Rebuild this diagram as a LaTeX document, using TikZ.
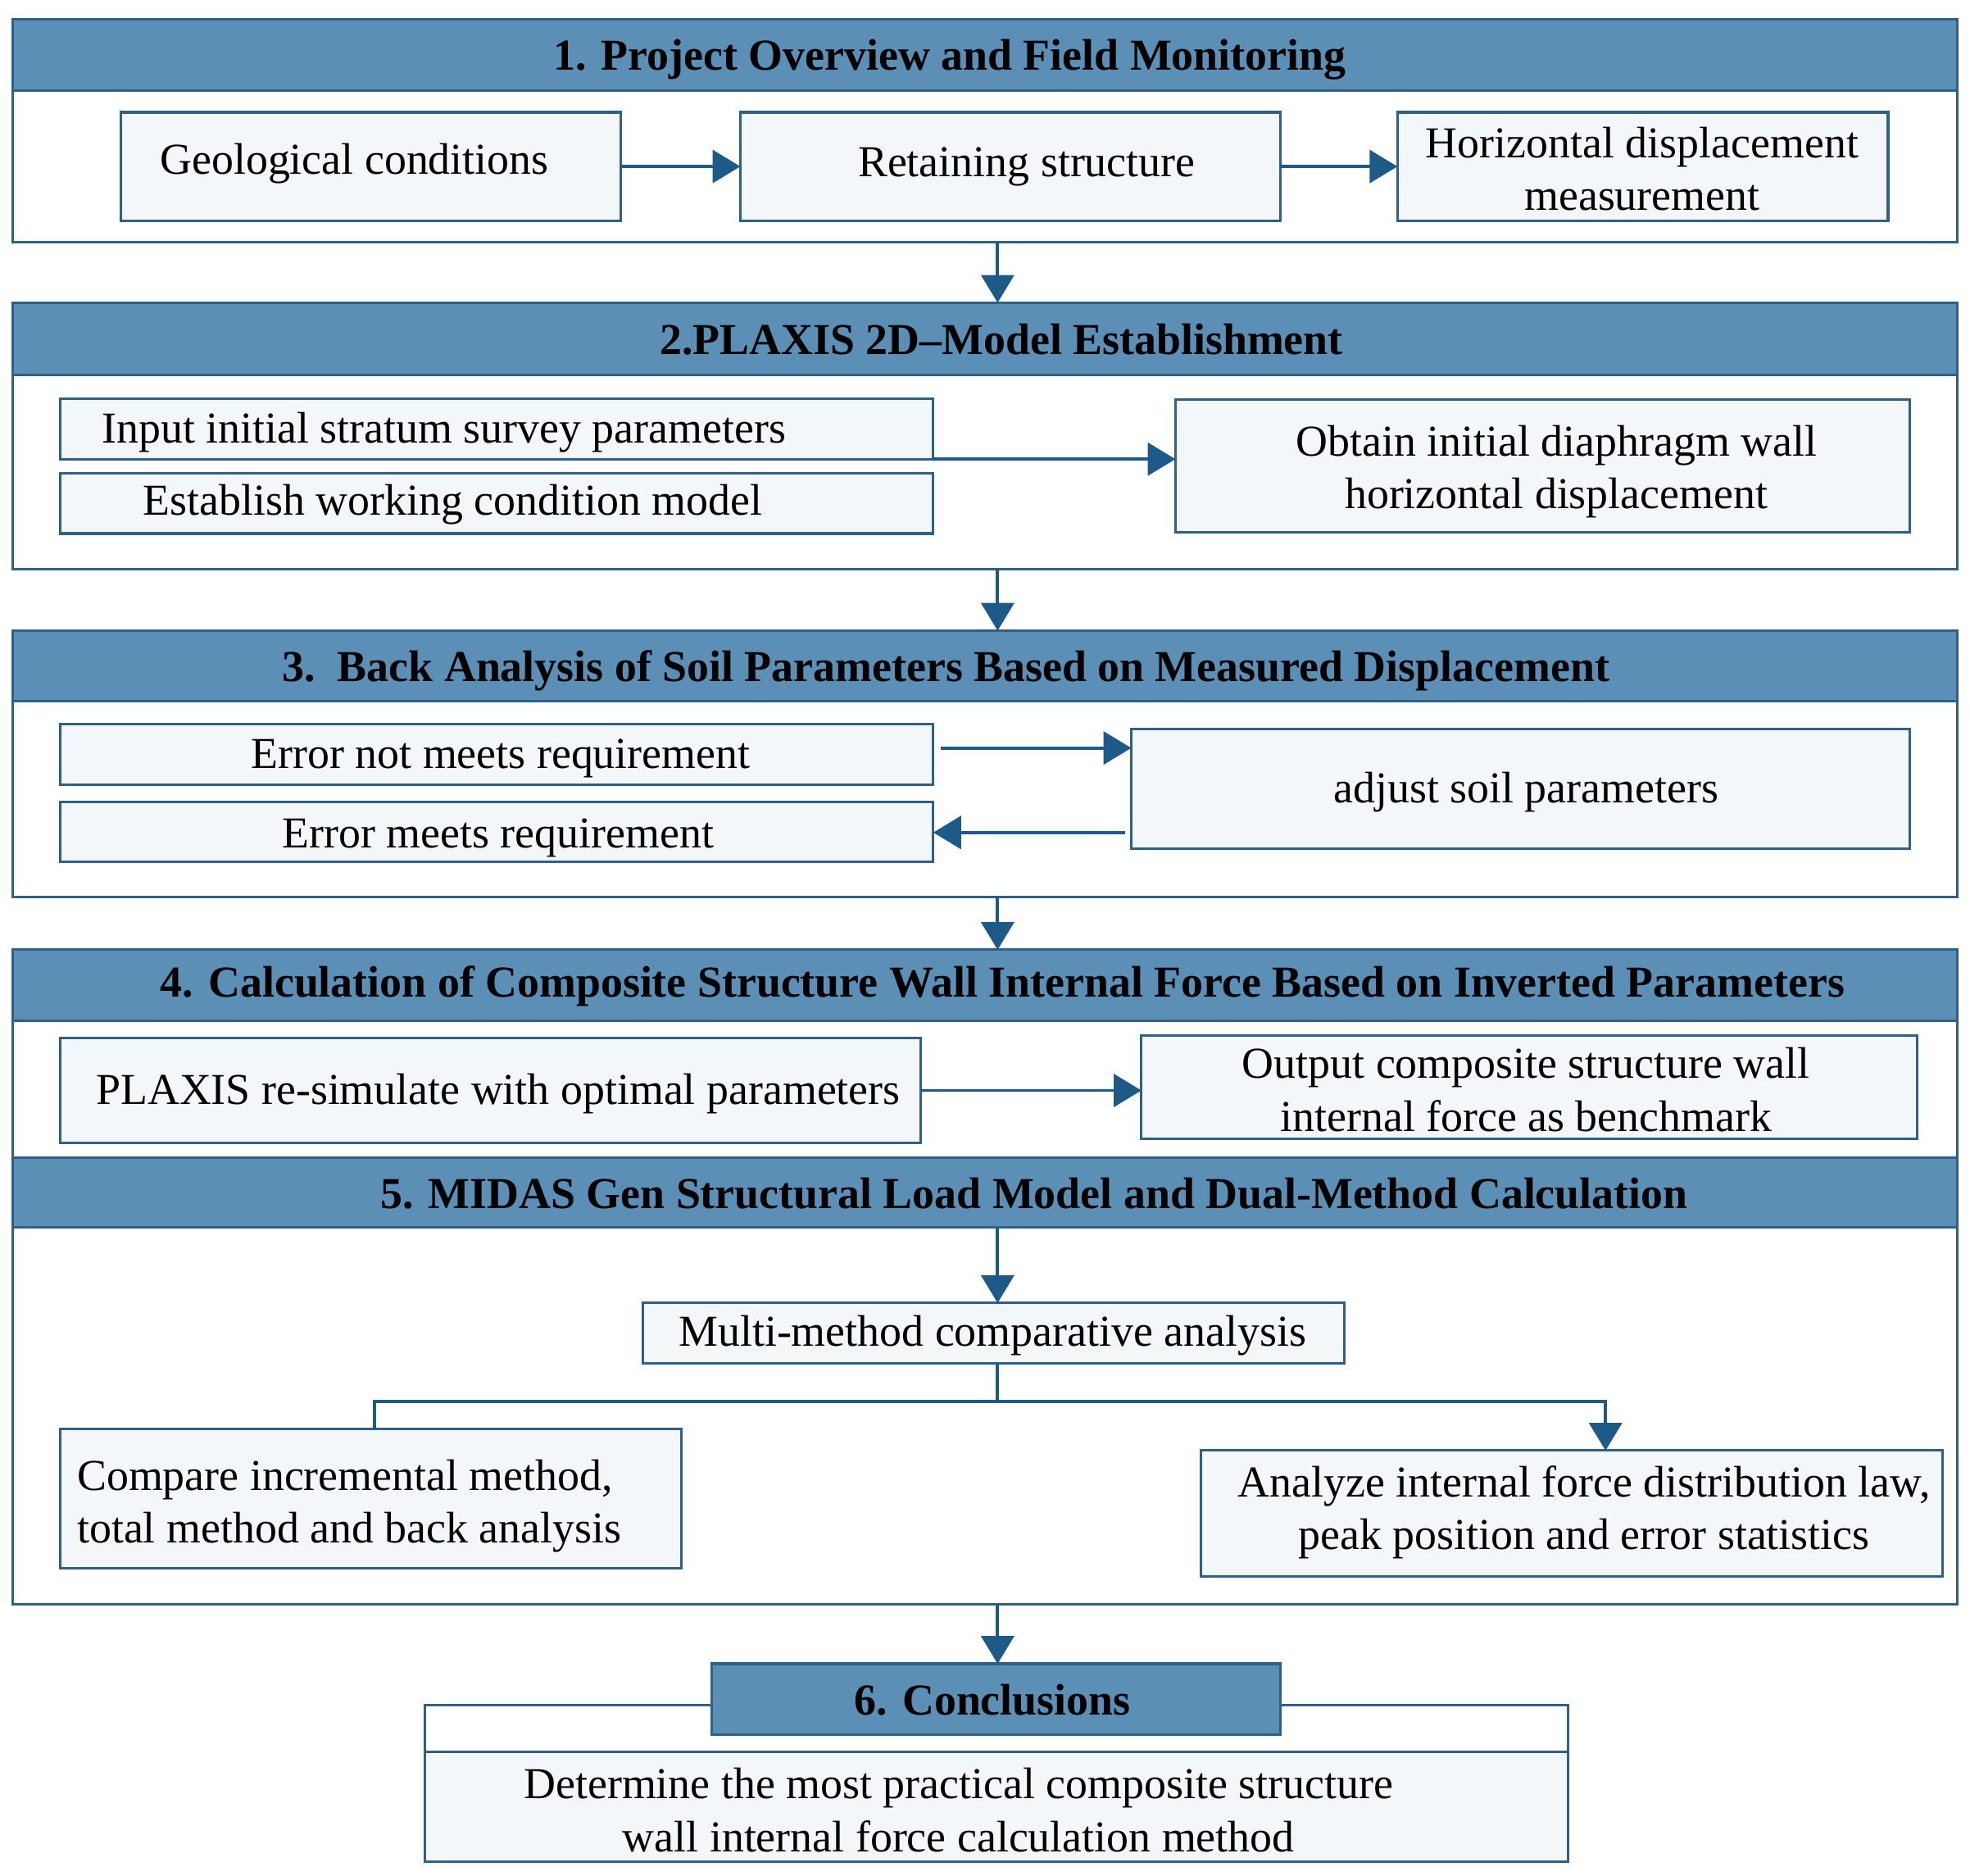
\documentclass[tikz,border=0pt]{standalone}
\usepackage{fontspec}
\setmainfont{Liberation Serif}
\usetikzlibrary{arrows.meta}
\definecolor{hdr}{HTML}{5B8FB5}
\definecolor{frm}{HTML}{2F6088}
\definecolor{arr}{HTML}{1D5A87}
\definecolor{inbox}{HTML}{F3F7FA}
\tikzset{
  box/.style={anchor=north west, inner sep=0pt, outer sep=0pt},
  frame/.style={box, draw=frm, fill=white, line width=2pt},
  header/.style={box, draw=frm, fill=hdr, line width=2pt},
  inner/.style={box, draw=frm, fill=inbox, line width=2pt},
  htext/.style={font=\fontsize{35}{40}\selectfont\bfseries, inner sep=0pt},
  btext/.style={font=\fontsize{35}{42}\selectfont, align=center, inner sep=0pt},
  conn/.style={draw=arr, line width=2.5pt},
  flow/.style={conn, -{Triangle[length=22pt,width=26pt]}},
}
\begin{document}
\begin{tikzpicture}[x=1pt,y=-1pt]
\useasboundingbox[fill=white] (0,0) rectangle (1562,1487);
\coordinate (x791) at (791,0);
% ---------- Section 1
\node[frame, minimum width=1542pt, minimum height=177pt] (f1) at (10,15) {};
\node[header, minimum width=1542pt, minimum height=57pt] (h1) at (10,15) {};
\node[htext] (t1) at (753,47) {1. Project Overview and Field Monitoring};
\node[inner, minimum width=396pt, minimum height=86pt] (geo) at (96,89) {};
\node[btext] (tgeo) at (281,130) {Geological conditions};
\node[inner, minimum width=428pt, minimum height=86pt] (ret) at (587,89) {};
\node[btext] (tret) at (814,132) {Retaining structure};
\node[inner, minimum width=389pt, minimum height=86pt] (hor) at (1108,89) {};
\node[btext] (thor) at (1302,134) {Horizontal displacement\\measurement};
\draw[flow] (geo.east) -- (ret.west);
\draw[flow] (ret.east) -- (hor.west);
% ---------- Section 2
\node[frame, minimum width=1542pt, minimum height=211pt] (f2) at (10,240) {};
\node[header, minimum width=1542pt, minimum height=57pt] (h2) at (10,240) {};
\node[htext] (t2) at (794,269) {2.PLAXIS 2D--Model Establishment};
\draw[flow] (f1.south -| x791) -- (h2.north -| x791);
\node[inner, minimum width=692pt, minimum height=48pt] (inp) at (48,316) {};
\node[btext] (tinp) at (352,343) {Input initial stratum survey parameters};
\node[inner, minimum width=692pt, minimum height=48pt] (est) at (48,375) {};
\node[btext] (test) at (359,400) {Establish working condition model};
\node[inner, minimum width=582pt, minimum height=105pt] (obt) at (932,317) {};
\node[btext] (tobt) at (1234,374) {Obtain initial diaphragm wall\\horizontal displacement};
\draw[flow] (inp.south east) -- (inp.south east -| obt.west);
% ---------- Section 3
\node[frame, minimum width=1542pt, minimum height=211pt] (f3) at (10,500) {};
\node[header, minimum width=1542pt, minimum height=56pt] (h3) at (10,500) {};
\node[htext] (t3) at (750,532) {3.\ \ Back Analysis of Soil Parameters Based on Measured Displacement};
\draw[flow] (f2.south -| x791) -- (h3.north -| x791);
\node[inner, minimum width=692pt, minimum height=48pt] (enm) at (48,574) {};
\node[btext] (tenm) at (397,601) {Error not meets requirement};
\node[inner, minimum width=692pt, minimum height=47pt] (em) at (48,636) {};
\node[btext] (tem) at (395,664) {Error meets requirement};
\node[inner, minimum width=617pt, minimum height=95pt] (adj) at (897,578) {};
\node[btext] (tadj) at (1210,628) {adjust soil parameters};
\coordinate (a3s) at ([shift={(6,19)}]enm.north east);
\draw[flow] (a3s) -- (a3s -| adj.west);
\coordinate (a3t) at ([shift={(-5,82)}]adj.north west);
\draw[flow] (a3t) -- (a3t -| em.east);
% ---------- Section 4
\node[frame, minimum width=1542pt, minimum height=165pt] (f4) at (10,753) {};
\node[header, minimum width=1542pt, minimum height=56pt] (h4) at (10,753) {};
\node[htext] (t4) at (795,782) {4. Calculation of Composite Structure Wall Internal Force Based on Inverted Parameters};
\draw[flow] (f3.south -| x791) -- (h4.north -| x791);
\node[inner, minimum width=682pt, minimum height=83pt] (plx) at (48,823) {};
\node[btext] (tplx) at (395,867) {PLAXIS re-simulate with optimal parameters};
\node[inner, minimum width=615pt, minimum height=82pt] (out) at (905,821) {};
\node[btext] (tout) at (1210,864) {Output composite structure wall\\internal force as benchmark};
\draw[flow] (plx.east) -- (plx.east -| out.west);
% ---------- Section 5
\node[frame, minimum width=1542pt, minimum height=354pt] (f5) at (10,918) {};
\node[header, minimum width=1542pt, minimum height=55pt] (h5) at (10,918) {};
\node[htext] (t5) at (820,946) {5. MIDAS Gen Structural Load Model and Dual-Method Calculation};
\node[inner, minimum width=556pt, minimum height=48pt] (mm) at (510,1033) {};
\node[btext] (tmm) at (787,1059) {Multi-method comparative analysis};
\draw[flow] (h5.south -| x791) -- (mm.north -| x791);
\node[inner, minimum width=492pt, minimum height=110pt] (cmp) at (48,1133) {};
\node[btext, align=left, anchor=west] (tcmp) at (61,1194) {Compare incremental method,\\total method and back analysis};
\node[inner, minimum width=588pt, minimum height=100pt] (ana) at (952,1150) {};
\node[btext] (tana) at (1256,1199) {Analyze internal force distribution law,\\peak position and error statistics};
\coordinate (br) at (791,1111);
\draw[conn] (mm.south -| x791) -- (br);
\draw[conn] (br) -| ([xshift=3pt]cmp.north);
\draw[flow] (br) -| ([xshift=27pt]ana.north);
% ---------- Section 6
\node[frame, minimum width=906pt, minimum height=124pt] (f6) at (337,1352) {};
\node[inner, minimum width=906pt, minimum height=87pt] (det) at (337,1389) {};
\node[btext] (tdet) at (760,1435) {Determine the most practical composite structure\\wall internal force calculation method};
\node[header, minimum width=451pt, minimum height=56pt] (h6) at (564,1319) {};
\node[htext] (t6) at (787,1348) {6. Conclusions};
\draw[flow] (f5.south -| x791) -- (h6.north -| x791);
\end{tikzpicture}
\end{document}
